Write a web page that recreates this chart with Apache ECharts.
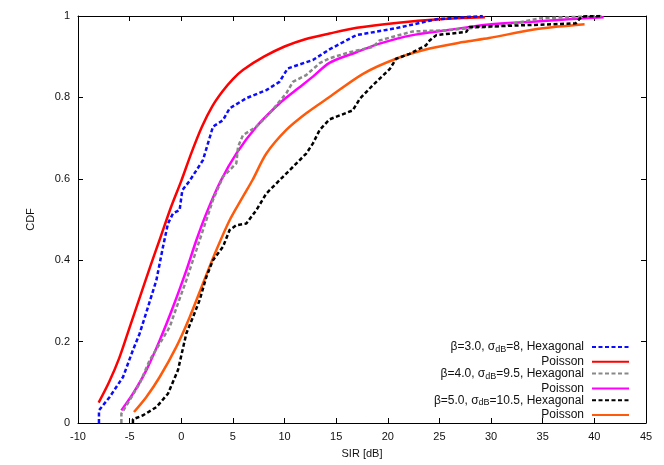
<!DOCTYPE html>
<html>
<head>
<meta charset="utf-8">
<script src="https://cdn.jsdelivr.net/npm/echarts@6/dist/echarts.min.js"></script>
<style>
  html, body { margin: 0; padding: 0; background: #fff; }
  #chart { width: 664px; height: 465px; }
</style>
</head>
<body>
<div id="chart"></div>
<script>
// x ticks and y ticks
var xTicks = [-10, 45, 5];
var yTicks = [0, 1, 0.2];

// beta = 3.0, sigma = 8
var hex3 = [[-7.97,0],[-7.97,0.031],[-6.93,0.064],[-5.64,0.113],[-4.68,0.179],[-4.03,0.22],[-3.22,0.285],
  [-2.41,0.351],[-1.77,0.433],[-1.29,0.49],[-0.8,0.515],[-0.16,0.523],[0.1,0.572],[0.81,0.595],[2.1,0.646],
  [3.07,0.728],[4.04,0.744],[4.68,0.773],[6.3,0.798],[8.24,0.818],[9.5,0.838],[10.3,0.871],[12.75,0.892],
  [14.35,0.918],[16.95,0.953],[20.8,0.97],[24.7,0.992],[29.2,1.0]];
var poi3 = [[-8,0.05],[-7,0.1],[-6,0.16],[-5,0.235],[-4,0.31],[-3,0.385],[-2,0.457],[-1,0.53],[0,0.595],
  [1,0.665],[2,0.728],[3,0.778],[4,0.815],[5,0.845],[6,0.868],[8,0.9],[10,0.925],[12,0.943],[14.35,0.957],
  [17,0.971],[20.8,0.983],[25,0.992],[29.4,0.997]];

// beta = 4.0, sigma = 9.5
var hex4 = [[-5.8,0],[-5.8,0.023],[-5,0.056],[-4.03,0.097],[-3.06,0.154],[-2.09,0.195],[-1.12,0.236],
  [-0.32,0.294],[0.49,0.351],[1.46,0.425],[2.1,0.474],[3.07,0.548],[4.04,0.605],[5.33,0.638],[5.5,0.679],
  [5.97,0.707],[7.27,0.728],[8.56,0.761],[10.17,0.81],[10.8,0.838],[12.1,0.855],[13.4,0.884],[14.35,0.896],
  [16.3,0.911],[18.55,0.924],[19.2,0.94],[20.8,0.951],[22.4,0.962],[25.7,0.965],[27.9,0.97],[30.8,0.975],
  [34.7,0.994],[37.3,0.997],[40.8,1.0]];
var poi4 = [[-5.8,0.031],[-4.68,0.072],[-3.38,0.13],[-2.09,0.203],[-0.8,0.285],[0.49,0.375],[1.46,0.449],
  [2.43,0.515],[3.8,0.594],[5.33,0.662],[7.27,0.728],[9.5,0.785],[11.1,0.818],[12.75,0.851],[14.35,0.885],
  [16.95,0.911],[19.2,0.932],[22.4,0.953],[25.7,0.965],[29.8,0.979],[34,0.986],[37.5,0.992],[40.9,0.997]];

// beta = 5.0, sigma = 10.5
var hex5 = [[-4.68,0],[-4.68,0.009],[-3.7,0.019],[-2.41,0.039],[-1.29,0.072],[-0.32,0.13],[0.49,0.22],
  [1.13,0.26],[1.78,0.302],[2.43,0.359],[3.07,0.4],[4.04,0.433],[4.68,0.474],[5.33,0.486],[6.3,0.49],
  [7.27,0.523],[8.24,0.564],[9.85,0.605],[10.8,0.629],[12.1,0.662],[12.75,0.687],[13.4,0.72],[14.35,0.746],
  [16.6,0.768],[17.3,0.797],[18.55,0.83],[20.2,0.87],[20.8,0.895],[22.1,0.907],[23.7,0.928],[24.05,0.94],
  [24.7,0.953],[27.6,0.961],[27.9,0.973],[30.8,0.975],[38.2,0.982],[38.6,0.994],[38.9,0.999],[40.8,1.0]];
var poi5 = [[-4.58,0.027],[-3.38,0.064],[-2.09,0.113],[-0.48,0.187],[0.81,0.26],[2.1,0.343],[3.4,0.425],
  [4.68,0.498],[5.97,0.556],[6.9,0.597],[8.24,0.662],[10.17,0.72],[12.1,0.761],[14.35,0.801],[17.6,0.858],
  [20.8,0.895],[24.05,0.92],[27.3,0.936],[29.8,0.946],[34,0.966],[36.5,0.974],[39.05,0.98]];

var names = ['hex3', 'poi3', 'hex4', 'poi4', 'hex5', 'poi5'];
var labels = {
  hex3: '{t|β=3.0, σ}{s|dB}{t|=8, Hexagonal}',
  poi3: '{t|Poisson}',
  hex4: '{t|β=4.0, σ}{s|dB}{t|=9.5, Hexagonal}',
  poi4: '{t|Poisson}',
  hex5: '{t|β=5.0, σ}{s|dB}{t|=10.5, Hexagonal}',
  poi5: '{t|Poisson}'
};
var seriesData = { hex3: hex3, poi3: poi3, hex4: hex4, poi4: poi4, hex5: hex5, poi5: poi5 };
var colors = { hex3: '#0b0bff', poi3: '#ff0000', hex4: '#888888', poi4: '#ff00ff', hex5: '#000000', poi5: '#ff5a0a' };

var font = '"Liberation Sans", Arial, sans-serif';

var chart = echarts.init(document.getElementById('chart'));

var legends = names.map(function (n, i) {
  return {
    data: [n],
    right: 34,
    top: 340 + i * 13.3 + (i % 2 ? 2.5 : 0),
    align: 'right',
    itemWidth: 37,
    itemHeight: 10,
    padding: 0,
    selectedMode: false,
    itemStyle: { opacity: 0 },
    formatter: function () { return labels[n]; },
    textStyle: {
      padding: [0, 3, 0, 0],
      rich: {
        t: { fontFamily: font, fontSize: 12, color: '#111', lineHeight: 13 },
        s: { fontFamily: font, fontSize: 9, color: '#111', lineHeight: 13, padding: [5, 0, 0, 0] }
      }
    }
  };
});

var axisCommon = {
  type: 'value',
  axisLine: { show: true, onZero: false, lineStyle: { color: '#000', width: 1 } },
  axisTick: { show: true, inside: true, length: 5, lineStyle: { color: '#000' } },
  splitLine: { show: false },
  axisLabel: { fontFamily: font, fontSize: 11, color: '#111' }
};

chart.setOption({
  animation: false,
  backgroundColor: '#fff',
  grid: { left: 78, right: 18, top: 16, bottom: 42 },
  legend: legends,
  xAxis: [
    Object.assign({}, axisCommon, {
      min: xTicks[0], max: xTicks[1], interval: xTicks[2],
      name: 'SIR [dB]', nameLocation: 'middle', nameGap: 25,
      nameTextStyle: { fontFamily: font, fontSize: 11, color: '#111' },
      axisLabel: { fontFamily: font, fontSize: 11, color: '#111', margin: 8 }
    }),
    Object.assign({}, axisCommon, {
      position: 'top', min: xTicks[0], max: xTicks[1], interval: xTicks[2],
      axisLabel: { show: false }
    })
  ],
  yAxis: [
    Object.assign({}, axisCommon, {
      min: yTicks[0], max: yTicks[1], interval: yTicks[2],
      name: 'CDF', nameLocation: 'middle', nameGap: 42,
      nameTextStyle: { fontFamily: font, fontSize: 11, color: '#111' },
      axisLabel: { fontFamily: font, fontSize: 11, color: '#111', margin: 8 }
    }),
    Object.assign({}, axisCommon, {
      position: 'right', min: yTicks[0], max: yTicks[1], interval: yTicks[2],
      axisLabel: { show: false }
    })
  ],
  series: names.map(function (n) {
    var dashed = n.indexOf('hex') === 0;
    return {
      name: n,
      type: 'line',
      data: seriesData[n],
      symbol: 'none',
      smooth: dashed ? false : 0.3,
      z: dashed ? 3 : 2,
      itemStyle: { color: colors[n] },
      lineStyle: { color: colors[n], width: 2.5, type: dashed ? [4, 2.5] : 'solid' }
    };
  })
});
</script>
</body>
</html>
